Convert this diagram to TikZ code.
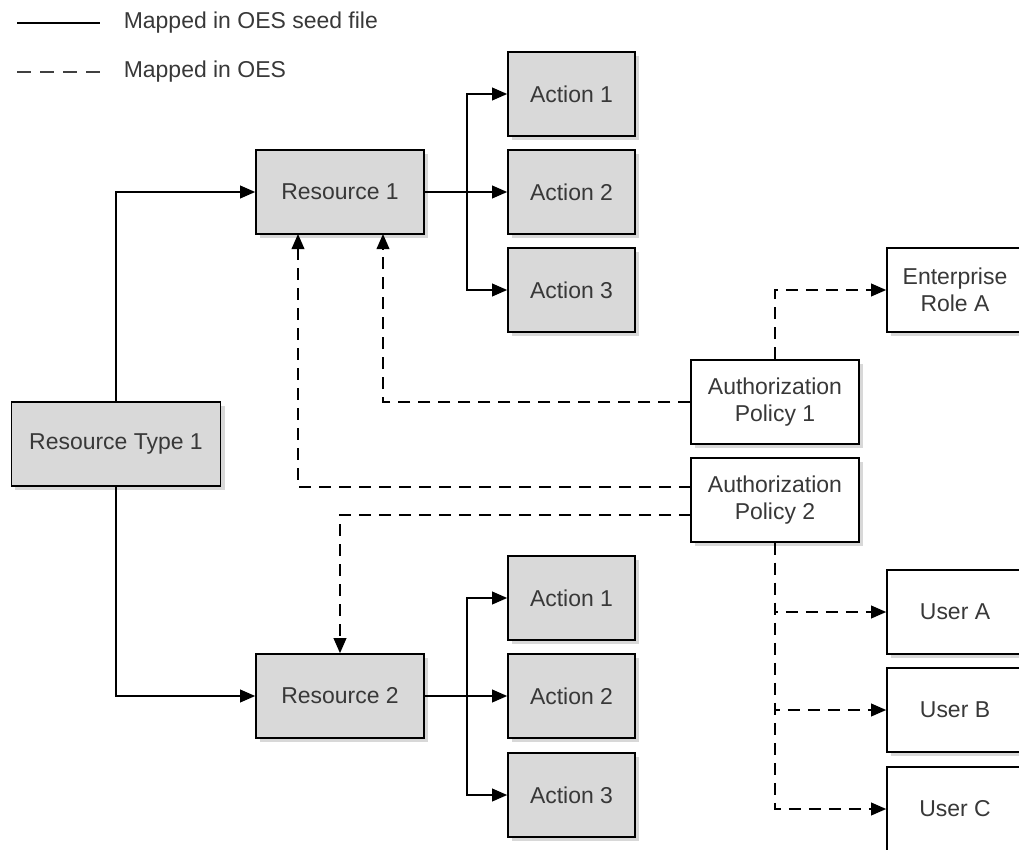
\documentclass[tikz,border=0pt]{standalone}
\usepackage{fontspec}
\setmainfont{Liberation Sans}
\usetikzlibrary{arrows.meta,shadows}
\definecolor{boxgrey}{HTML}{D9D9D9}
\definecolor{txtgrey}{HTML}{383838}

\begin{document}
\begin{tikzpicture}[x=0.03cm, y=-0.03cm, line width=1.4pt,
  >={Triangle[length=0.45cm,width=0.38cm]},
  font=\fontsize{19.6}{23.5}\selectfont,
  box/.style={rectangle, draw=black, inner sep=0pt, minimum height=2.52cm, text=txtgrey, align=center,
    drop shadow={shadow xshift=0.12cm, shadow yshift=-0.12cm, fill=black!30}},
  seedbox/.style={box, fill=boxgrey},
  oesbox/.style={box, fill=white},
  seed/.style={->},
  oes/.style={->, dash pattern=on 0.36cm off 0.24cm},
  keytext/.style={anchor=west, inner sep=0pt, text=txtgrey}]
\useasboundingbox (0,0) rectangle (1019,849);
% key
\coordinate (keyAs) at (17,23);
\coordinate (keyAe) at (100,23);
\coordinate (keyBs) at (17,72);
\coordinate (keyBe) at (100,72);
\node (keyAt) at (123,23) [keytext] {Mapped in OES seed file};
\node (keyBt) at (123,72) [keytext] {Mapped in OES};
\draw (keyAs) -- (keyAe);
\draw[dash pattern=on 0.42cm off 0.27cm, draw=black!75] (keyBs) -- (keyBe);
% resources and actions
\node (rt1) at (116,444) [seedbox, minimum width=6.27cm] {Resource Type 1};
\node (r1) at (340,192) [seedbox, minimum width=5.04cm] {Resource 1};
\node (r2) at (340,696) [seedbox, minimum width=5.04cm] {Resource 2};
\node (a11) at (571.5,94) [seedbox, minimum width=3.81cm] {Action 1};
\node (a12) at (571.5,192) [seedbox, minimum width=3.81cm] {Action 2};
\node (a13) at (571.5,290) [seedbox, minimum width=3.81cm] {Action 3};
\node (a21) at (571.5,598) [seedbox, minimum width=3.81cm] {Action 1};
\node (a22) at (571.5,696) [seedbox, minimum width=3.81cm] {Action 2};
\node (a23) at (571.5,795) [seedbox, minimum width=3.81cm] {Action 3};
% policies, role and users
\node (ap1) at (775,402) [oesbox, minimum width=5.04cm] {Authorization\\Policy 1};
\node (ap2) at (775,500) [oesbox, minimum width=5.04cm] {Authorization\\Policy 2};
\node (er) at (955,290) [oesbox, minimum width=4.08cm] {Enterprise\\Role A};
\node (ua) at (955,612) [oesbox, minimum width=4.08cm] {User A};
\node (ub) at (955,710) [oesbox, minimum width=4.08cm] {User B};
\node (uc) at (955,809) [oesbox, minimum width=4.08cm] {User C};
\coordinate (r1split) at (467,192);
\coordinate (r2split) at (467,696);
\coordinate (r1inA) at (298,234);
\coordinate (r1inB) at (383,234);
\coordinate (ap2outA) at (691,487);
\coordinate (ap2outB) at (691,515);
% seed file mappings
\draw[seed] (rt1) |- (r1);
\draw[seed] (rt1) |- (r2);
\draw[seed] (r1) -- (r1split) |- (a11);
\draw[seed] (r1) -- (a12);
\draw[seed] (r1split) |- (a13);
\draw[seed] (r2) -- (r2split) |- (a21);
\draw[seed] (r2) -- (a22);
\draw[seed] (r2split) |- (a23);
% OES mappings
\draw[oes] (ap1) -| (r1inB);
\draw[oes] (ap1) |- (er);
\draw[oes] (ap2outA) -| (r1inA);
\draw[oes] (ap2outB) -| (r2);
\draw[oes] (ap2) |- (ua);
\draw[oes] (ap2) |- (ub);
\draw[oes] (ap2) |- (uc);
\end{tikzpicture}
\end{document}
